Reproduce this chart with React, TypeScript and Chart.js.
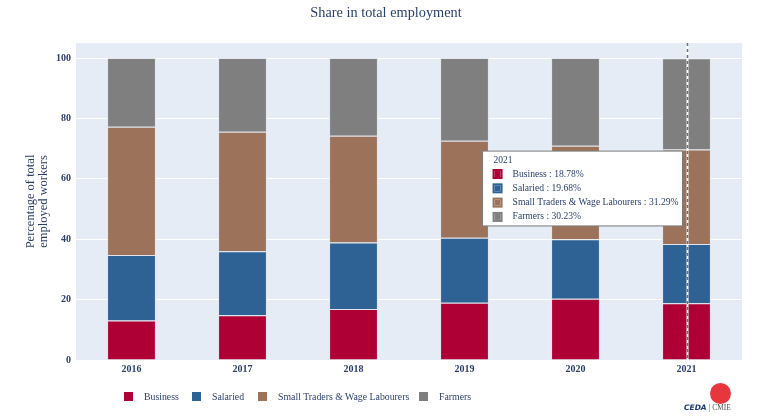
import React, { useEffect, useRef } from "react";
import { Chart, registerables, Tooltip } from "chart.js";

Chart.register(...registerables);

const years = ["2016", "2017", "2018", "2019", "2020", "2021"];
const business = [13.1, 14.8, 16.9, 19.0, 20.3, 18.78];
const salaried = [21.7, 21.2, 22.0, 21.5, 19.7, 19.68];
const traders = [42.5, 39.6, 35.4, 32.1, 31.0, 31.29];
const farmers = [22.7, 24.4, 25.7, 27.4, 29.0, 30.23];
const seriesNames = ["Business", "Salaried", "Small Traders & Wage Labourers", "Farmers"];
const seriesColors = ["#AE0034", "#2F6294", "#9C735A", "#7F7F7F"];
const yTicks = [0, 20, 40, 60, 80, 100];

const FONT = "'Liberation Serif', 'DejaVu Serif', serif";
const NAVY = "#2b3f6c";
const HOVER_INDEX = 5;

(Tooltip.positioners as any).leftOfSpike = function (this: any) {
  const chart = this.chart;
  const xs = chart.scales.x;
  const ys = chart.scales.y;
  return {
    x: xs.getPixelForValue(HOVER_INDEX) - 4,
    y: ys.getPixelForValue(56.8),
    xAlign: "right",
    yAlign: "center",
  };
};

const bgPlugin = {
  id: "plotBg",
  beforeDraw(chart: any) {
    const { ctx, chartArea } = chart;
    ctx.save();
    ctx.fillStyle = "#E5ECF6";
    ctx.fillRect(chartArea.left, chartArea.top, chartArea.right - chartArea.left, chartArea.bottom - chartArea.top);
    ctx.restore();
  },
};

const spikePlugin = {
  id: "spike",
  afterDatasetsDraw(chart: any) {
    const { ctx, chartArea } = chart;
    const x = Math.round(chart.scales.x.getPixelForValue(HOVER_INDEX)) + 0.5;
    ctx.save();
    ctx.strokeStyle = "#ffffff";
    ctx.lineWidth = 2;
    ctx.beginPath();
    ctx.moveTo(x, chartArea.top);
    ctx.lineTo(x, chartArea.bottom);
    ctx.stroke();
    ctx.strokeStyle = "#6e6e6e";
    ctx.lineWidth = 1.5;
    ctx.setLineDash([3, 3]);
    ctx.beginPath();
    ctx.moveTo(x, chartArea.top);
    ctx.lineTo(x, chartArea.bottom);
    ctx.stroke();
    ctx.restore();
  },
};

export default function App() {
  const ref = useRef<HTMLCanvasElement | null>(null);

  useEffect(() => {
    if (!ref.current) return;
    const values = [business, salaried, traders, farmers];
    const chart = new Chart(ref.current, {
      type: "bar",
      data: {
        labels: years,
        datasets: values.map((v, i) => ({
          label: seriesNames[i],
          data: v,
          backgroundColor: seriesColors[i],
          borderColor: "rgba(225,228,235,0.9)",
          borderWidth: 1,
          barPercentage: 0.44,
          categoryPercentage: 1,
        })),
      },
      options: {
        responsive: false,
        animation: false,
        events: [],
        layout: { padding: { top: 43, right: 30, left: 0, bottom: 0 } },
        plugins: {
          legend: { display: false },
          title: { display: false },
          tooltip: {
            enabled: true,
            mode: "index",
            position: "leftOfSpike" as any,
            backgroundColor: "#ffffff",
            borderColor: "#7a7a7a",
            borderWidth: 1,
            cornerRadius: 0,
            caretSize: 0,
            caretPadding: 0,
            displayColors: true,
            boxWidth: 8,
            boxHeight: 8,
            boxPadding: 9,
            padding: { top: 4, left: 11, right: 4, bottom: 3 } as any,
            titleColor: NAVY,
            bodyColor: NAVY,
            titleFont: { family: FONT, size: 9.5, weight: "normal", lineHeight: 1.15 },
            bodyFont: { family: FONT, size: 9.6, lineHeight: 1.25 },
            titleMarginBottom: 2,
            bodySpacing: 2.3,
            callbacks: {
              label: (ctx: any) => `${ctx.dataset.label} : ${ctx.parsed.y.toFixed(2)}%`,
              labelColor: (ctx: any) => ({
                borderColor: seriesColors[ctx.datasetIndex],
                backgroundColor: seriesColors[ctx.datasetIndex],
                borderWidth: 2,
              }),
            },
          },
        },
        scales: {
          x: {
            stacked: true,
            grid: { display: false, drawTicks: false },
            border: { display: false },
            ticks: { color: NAVY, font: { family: FONT, size: 10, weight: "bold" }, padding: 3 },
            afterFit: (s: any) => {
              s.height = 58;
            },
          },
          y: {
            stacked: true,
            min: 0,
            max: 105,
            border: { display: false },
            grid: { color: "#ffffff", lineWidth: 1, drawTicks: false },
            ticks: { stepSize: 20, color: NAVY, font: { family: FONT, size: 10, weight: "bold" }, padding: 5 },
            afterBuildTicks: (s: any) => {
              s.ticks = yTicks.map((v) => ({ value: v }));
            },
            title: {
              display: true,
              text: ["Percentage of total", "employed workers"],
              color: NAVY,
              font: { family: FONT, size: 12.5, lineHeight: 1.05 },
              padding: { top: 24, bottom: 0 },
            },
            afterFit: (s: any) => {
              s.width = 76;
            },
          },
        },
      },
      plugins: [bgPlugin, spikePlugin],
    });

    const els = [0, 1, 2, 3].map((d) => ({ datasetIndex: d, index: HOVER_INDEX }));
    chart.tooltip!.setActiveElements(els, { x: 0, y: 0 });
    chart.update();

    return () => chart.destroy();
  }, []);

  const legendLefts = [124, 192, 258, 419];

  return (
    <div style={{ position: "absolute", left: 0, top: 0, width: 772, height: 418, background: "#fff", fontFamily: FONT }}>
      <canvas ref={ref} width={772} height={418} style={{ position: "absolute", left: 0, top: 0 }} />
      <div
        style={{
          position: "absolute",
          left: 0,
          top: 2,
          width: 772,
          textAlign: "center",
          fontSize: 14.3,
          color: NAVY,
          lineHeight: "20px",
        }}
      >
        Share in total employment
      </div>
      {seriesNames.map((n, i) => (
        <div
          key={n}
          style={{ position: "absolute", left: legendLefts[i], top: 389, height: 14, display: "flex", alignItems: "center" }}
        >
          <span style={{ width: 9, height: 9, background: seriesColors[i], display: "inline-block", marginRight: 11 }} />
          <span style={{ fontSize: 9.8, color: NAVY, whiteSpace: "nowrap" }}>{n}</span>
        </div>
      ))}
      <div
        style={{ position: "absolute", left: 710, top: 383, width: 21, height: 21, borderRadius: "50%", background: "#E8363D" }}
      />
      <div
        style={{ position: "absolute", left: 684, top: 403, fontSize: 7.5, lineHeight: "10px", whiteSpace: "nowrap", color: "#555" }}
      >
        <span style={{ fontFamily: "'DejaVu Sans', sans-serif", fontWeight: "bold", color: "#1f3a7a", fontStyle: "italic" }}>CEDA</span>
        <span style={{ margin: "0 2px" }}>|</span>
        <span>CMIE</span>
      </div>
    </div>
  );
}
